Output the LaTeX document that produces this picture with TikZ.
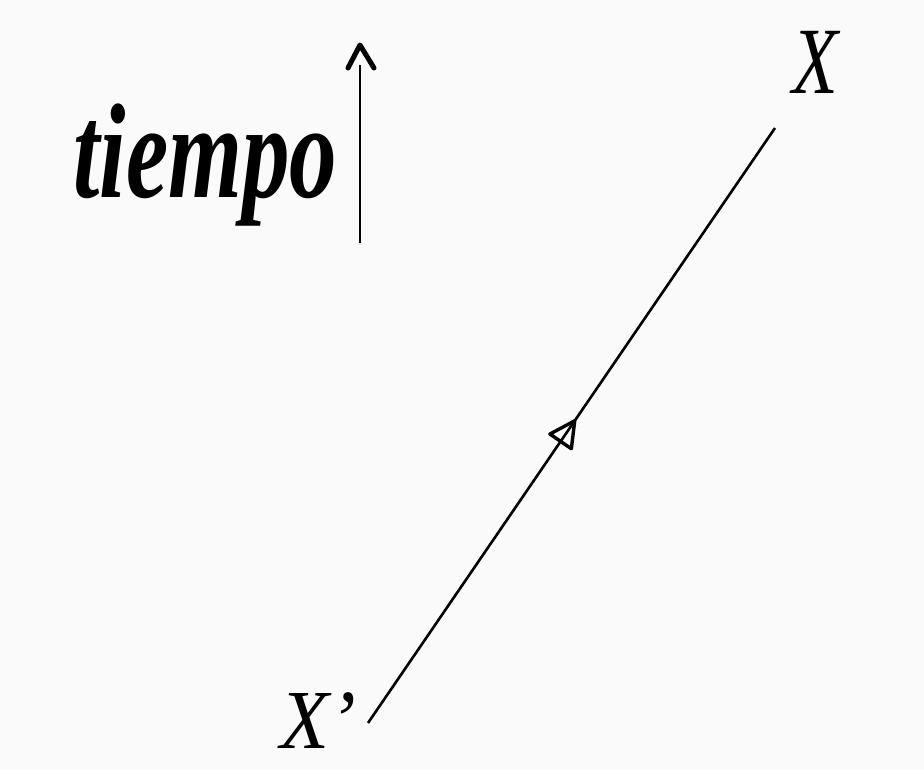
\documentclass[tikz,border=0pt]{standalone}
\usepackage{fontspec}
\setmainfont{Liberation Serif}
\usetikzlibrary{arrows.meta,decorations.markings}
\begin{document}
\begin{tikzpicture}[x=1pt,y=1pt,
  lbl/.style={inner sep=0pt},
  wline/.style={line width=2.6pt,black},
  midarrow/.style={postaction={decorate,decoration={markings,
     mark=at position 0.49 with {\draw[line width=3.4pt,line join=round] (13pt,0pt) -- (-12pt,13pt) -- (-12pt,-13pt) -- cycle;}}}}]
\fill[white!98!black] (0,0) rectangle (924,769);
\useasboundingbox (0,0) rectangle (924,769);
% time axis
\coordinate (tbot) at (360,526);
\coordinate (ttop) at (360,704);
\coordinate (ttip) at (360,724);
\draw[wline] (tbot) -- (ttop);
\draw[line width=5pt,line cap=round,line join=round] (348,701) -- (ttip) -- (374,701);
\node[lbl,anchor=base west,xscale=0.95,yscale=1.35,font=\fontsize{100}{100}\selectfont\bfseries\itshape] (tiempo) at (73,571) {tiempo};
% world line
\node[lbl,anchor=base,xscale=0.75,yscale=0.95,font=\fontsize{100}{100}\selectfont\itshape] (X) at (815,675) {X};
\node[lbl,anchor=base west,xscale=0.8,yscale=0.84,font=\fontsize{100}{100}\selectfont\itshape] (Xp) at (280,21) {X'};
\coordinate (a) at (368,46);
\coordinate (b) at (775,641);
\draw[wline,midarrow] (a) -- (b);
\end{tikzpicture}
\end{document}
